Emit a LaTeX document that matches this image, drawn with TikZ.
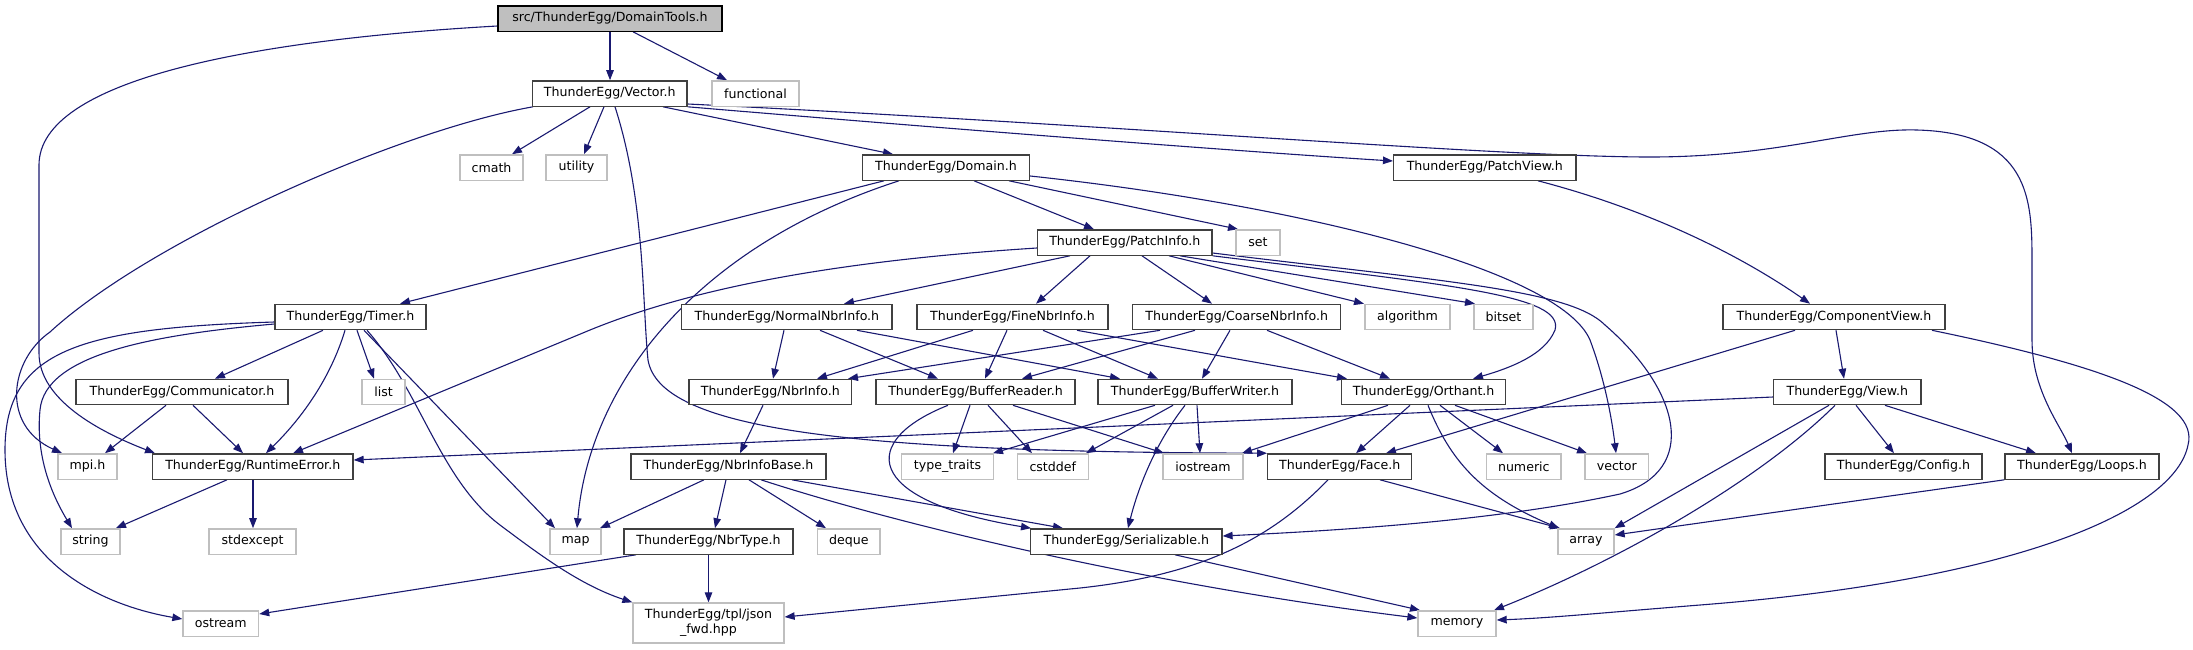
\documentclass[tikz,border=0pt]{standalone}
\usepackage{fontspec}
\setmainfont{DejaVu Sans}
\usetikzlibrary{arrows.meta}
\definecolor{edgec}{HTML}{191970}
\definecolor{realb}{HTML}{404040}
\definecolor{sysb}{HTML}{BFBFBF}
\definecolor{rootfill}{HTML}{BFBFBF}
\pgfdeclarelayer{bg}
\pgfsetlayers{bg,main}
\begin{document}
\begin{tikzpicture}[x=1pt,y=-1pt,
  every node/.style={font=\fontsize{12.6}{15}\selectfont, inner sep=0pt, text=black},
  real/.style={draw=realb, fill=white, line width=1.3pt, minimum height=25.3pt},
  sys/.style={draw=sysb, fill=white, line width=1.3pt, minimum height=25.3pt},
  rootbox/.style={draw=black, fill=rootfill, line width=1.3pt, minimum height=25.3pt},
  link/.style={draw=edgec, line width=1.1pt, -{Triangle[length=10pt,width=7.5pt]}}]
\useasboundingbox (0,0) rectangle (2193,649);
% row 0
\node[rootbox, minimum width=224pt] (dt) at (610,18.5) {src/ThunderEgg/DomainTools.h};
% row 1
\node[real, minimum width=154.5pt] (vec) at (609.75,93.5) {ThunderEgg/Vector.h};
\node[sys, minimum width=87pt] (func) at (755.5,93.5) {functional};
% row 2
\node[sys, minimum width=63pt] (cmath) at (491.5,167.5) {cmath};
\node[sys, minimum width=61pt] (util) at (576.5,167.5) {utility};
\node[real, minimum width=167pt] (dom) at (946,167.5) {ThunderEgg/Domain.h};
\node[real, minimum width=182.4pt] (pv) at (1484.8,167.5) {ThunderEgg/PatchView.h};
% row 3
\node[real, minimum width=174.5pt] (pi) at (1124.75,242.5) {ThunderEgg/PatchInfo.h};
\node[sys, minimum width=44pt] (set) at (1258,242.5) {set};
% row 4
\node[real, minimum width=151pt] (timer) at (350.5,317) {ThunderEgg/Timer.h};
\node[real, minimum width=210.3pt] (nni) at (786.9,317) {ThunderEgg/NormalNbrInfo.h};
\node[real, minimum width=191pt] (fni) at (1012.5,317) {ThunderEgg/FineNbrInfo.h};
\node[real, minimum width=208pt] (cni) at (1236.7,317) {ThunderEgg/CoarseNbrInfo.h};
\node[sys, minimum width=85pt] (algo) at (1407.5,317) {algorithm};
\node[sys, minimum width=59pt] (bitset) at (1503.5,317) {bitset};
\node[real, minimum width=222pt] (cv) at (1834,317) {ThunderEgg/ComponentView.h};
% row 5
\node[real, minimum width=212pt] (comm) at (182,392) {ThunderEgg/Communicator.h};
\node[sys, minimum width=43pt] (list) at (383.5,392) {list};
\node[real, minimum width=162.7pt] (nbr) at (770.3,392) {ThunderEgg/NbrInfo.h};
\node[real, minimum width=199pt] (br) at (975.5,392) {ThunderEgg/BufferReader.h};
\node[real, minimum width=194pt] (bw) at (1195,392) {ThunderEgg/BufferWriter.h};
\node[real, minimum width=164pt] (orth) at (1423.7,392) {ThunderEgg/Orthant.h};
\node[real, minimum width=147.4pt] (view) at (1847.3,392) {ThunderEgg/View.h};
% row 6
\node[sys, minimum width=59pt] (mpi) at (87.5,466.5) {mpi.h};
\node[real, minimum width=200.5pt] (rte) at (252.75,466.5) {ThunderEgg/RuntimeError.h};
\node[real, minimum width=195pt] (nib) at (728.5,466.5) {ThunderEgg/NbrInfoBase.h};
\node[sys, minimum width=91.6pt] (tt) at (947.5,466.5) {type\_traits};
\node[sys, minimum width=71pt] (cstd) at (1052.8,466.5) {cstddef};
\node[sys, minimum width=80pt] (ios) at (1203,466.5) {iostream};
\node[real, minimum width=144pt] (face) at (1339.7,466.5) {ThunderEgg/Face.h};
\node[sys, minimum width=74.3pt] (num) at (1523.8,466.5) {numeric};
\node[sys, minimum width=63.7pt] (vector) at (1616.8,466.5) {vector};
\node[real, minimum width=157pt] (config) at (1903.5,466.5) {ThunderEgg/Config.h};
\node[real, minimum width=154pt] (loops) at (2082,466.5) {ThunderEgg/Loops.h};
% row 7
\node[sys, minimum width=59pt] (string) at (90.5,541.5) {string};
\node[sys, minimum width=87pt] (stdexc) at (252.5,541.5) {stdexcept};
\node[sys, minimum width=51pt] (map) at (575.5,541.5) {map};
\node[real, minimum width=169pt] (nt) at (708.5,541.5) {ThunderEgg/NbrType.h};
\node[sys, minimum width=62.5pt] (deque) at (848.75,541.5) {deque};
\node[real, minimum width=191.3pt] (ser) at (1126.3,541.5) {ThunderEgg/Serializable.h};
\node[sys, minimum width=56pt] (array) at (1586,541.5) {array};
% row 8
\node[sys, minimum width=75.6pt] (ostream) at (220.8,623.5) {ostream};
\node[sys, minimum width=151pt, minimum height=40pt, align=center] (json) at (708.5,623) {ThunderEgg/tpl/json\\\_fwd.hpp};
\node[sys, minimum width=78pt] (memory) at (1457,623.5) {memory};

\begin{pgfonlayer}{bg}
% DomainTools
\draw[link] (dt.south -| 610,0) -- (vec.north -| 610,0);
\draw[link] (dt.south -| 633,0) -- (func.north -| 727,0);
\draw[link] (dt.west |- 0,26) .. controls (250,40) and (39,80) .. (39,165) -- (39,353) .. controls (39,400) and (100,432) .. (rte.north -| 155,0);
% Vector
\draw[link] (vec.south -| 590,0) -- (cmath.north -| 512,0);
\draw[link] (vec.south -| 604,0) -- (util.north -| 584,0);
\draw[link] (vec.south -| 663,0) -- (dom.north -| 893,0);
\draw[link] (vec.south -| 615,0) .. controls (645,200) and (642,300) .. (648,360) .. controls (660,430) and (850,452) .. (face.north west);
\draw[link] (vec.south -| 533,0) .. controls (400,130) and (150,240) .. (50,332) .. controls (10,360) and (0,425) .. (mpi.north -| 62,0);
\draw[link] (vec.south east) .. controls (1000,133) and (1250,152) .. (pv.west |- 0,161);
\draw[link] (vec.east |- 0,104) .. controls (1100,124) and (1500,157) .. (1650,157) .. controls (1780,157) and (1850,128) .. (1917,130) .. controls (2030,133) and (2032,200) .. (2032,260) -- (2032,340) .. controls (2032,390) and (2060,425) .. (loops.north -| 2072,0);
% Domain
\draw[link] (dom.south -| 884,0) -- (timer.north -| 400,0);
\draw[link] (dom.south -| 899,0) .. controls (700,245) and (590,380) .. (map.north -| 577,0);
\draw[link] (dom.south -| 974,0) -- (pi.north -| 1094,0);
\draw[link] (dom.south -| 1009,0) -- (set.north -| 1238,0);
\draw[link] (dom.east |- 0,176) .. controls (1300,205) and (1560,270) .. (1590,340) .. controls (1605,380) and (1612,420) .. (vector.north -| 1616,0);
% PatchInfo
\draw[link] (pi.west |- 0,248) .. controls (850,260) and (700,285) .. (590,330) -- (rte.north -| 293,0);
\draw[link] (pi.south -| 1070,0) -- (nni.north -| 844,0);
\draw[link] (pi.south -| 1090,0) -- (fni.north -| 1036,0);
\draw[link] (pi.south -| 1142,0) -- (cni.north -| 1212,0);
\draw[link] (pi.south -| 1169,0) -- (algo.north -| 1364,0);
\draw[link] (pi.south -| 1180,0) -- (bitset.north -| 1475,0);
\draw[link] (pi.south east) .. controls (1450,285) and (1565,295) .. (1555,330) .. controls (1545,355) and (1510,368) .. (orth.north -| 1473,0);
\draw[link] (pi.east |- 0,253) .. controls (1450,282) and (1570,290) .. (1605,325) .. controls (1680,390) and (1700,470) .. (1620,494) .. controls (1500,520) and (1350,530) .. (ser.east |- 0,536);
% PatchView
\draw[link] (pv.south -| 1538,0) .. controls (1650,210) and (1740,255) .. (cv.north -| 1810,0);
% Timer
\draw[link] (timer.south -| 323,0) -- (comm.north -| 215,0);
\draw[link] (timer.south -| 345,0) .. controls (330,380) and (300,420) .. (rte.north -| 266,0);
\draw[link] (timer.south -| 357,0) -- (list.north -| 374,0);
\draw[link] (timer.south -| 364,0) -- (map.north -| 555,0);
\draw[link] (timer.south -| 367,0) .. controls (420,390) and (440,480) .. (500,525) .. controls (540,555) and (580,585) .. (json.north west);
\draw[link] (timer.west |- 0,324) .. controls (150,335) and (45,355) .. (40,410) .. controls (35,460) and (55,500) .. (string.north -| 72,0);
\draw[link] (timer.west |- 0,322) .. controls (80,328) and (5,350) .. (5,450) .. controls (5,560) and (100,605) .. (ostream.west |- 0,619);
% Communicator
\draw[link] (comm.south -| 166,0) -- (mpi.north -| 105,0);
\draw[link] (comm.south -| 193,0) -- (rte.north -| 243,0);
% RuntimeError
\draw[link] (rte.south -| 227,0) -- (string.north -| 116,0);
\draw[link] (rte.south -| 253,0) -- (stdexc.north -| 253,0);
% NormalNbrInfo
\draw[link] (nni.south -| 784,0) -- (nbr.north -| 773,0);
\draw[link] (nni.south -| 820,0) -- (br.north -| 938,0);
\draw[link] (nni.south -| 857,0) -- (bw.north -| 1120,0);
% FineNbrInfo
\draw[link] (fni.south -| 973,0) -- (nbr.north -| 817,0);
\draw[link] (fni.south -| 1007,0) -- (br.north -| 985,0);
\draw[link] (fni.south -| 1043,0) -- (bw.north -| 1158,0);
\draw[link] (fni.south -| 1077,0) -- (orth.north -| 1347,0);
% CoarseNbrInfo
\draw[link] (cni.south -| 1160,0) -- (nbr.north -| 848,0);
\draw[link] (cni.south -| 1195,0) -- (br.north -| 1022,0);
\draw[link] (cni.south -| 1230,0) -- (bw.north -| 1202,0);
\draw[link] (cni.south -| 1267,0) -- (orth.north -| 1390,0);
% NbrInfo
\draw[link] (nbr.south -| 763,0) -- (nib.north -| 740,0);
% BufferReader
\draw[link] (br.south -| 970,0) -- (tt.north -| 953,0);
\draw[link] (br.south -| 988,0) -- (cstd.north -| 1032,0);
\draw[link] (br.south -| 1013,0) -- (ios.north -| 1164,0);
\draw[link] (br.south -| 948,0) .. controls (860,440) and (860,500) .. (ser.north -| 1031,0);
% BufferWriter
\draw[link] (bw.south -| 1155,0) -- (tt.north -| 993,0);
\draw[link] (bw.south -| 1173,0) -- (cstd.north -| 1086,0);
\draw[link] (bw.south -| 1197,0) -- (ios.north -| 1200,0);
\draw[link] (bw.south -| 1185,0) .. controls (1150,450) and (1135,500) .. (ser.north -| 1128,0);
% Orthant
\draw[link] (orth.south -| 1388,0) -- (ios.north -| 1242,0);
\draw[link] (orth.south -| 1410,0) -- (face.north -| 1356,0);
\draw[link] (orth.south -| 1440,0) -- (num.north -| 1503,0);
\draw[link] (orth.south -| 1455,0) -- (vector.north -| 1587,0);
\draw[link] (orth.south -| 1428,0) .. controls (1450,460) and (1480,495) .. (array.north -| 1559,0);
% Face
\draw[link] (face.south -| 1380,0) -- (array.north -| 1560,0);
\draw[link] (face.south -| 1328,0) .. controls (1270,540) and (1200,575) .. (1080,588) -- (json.east |- 0,617);
% NbrInfoBase
\draw[link] (nib.south -| 704,0) -- (map.north -| 600,0);
\draw[link] (nib.south -| 726,0) -- (nt.north -| 715,0);
\draw[link] (nib.south -| 749,0) -- (deque.north -| 826,0);
\draw[link] (nib.south -| 792,0) -- (ser.north -| 1063,0);
\draw[link] (nib.south -| 761,0) .. controls (900,525) and (1150,585) .. (memory.west |- 0,618);
% NbrType
\draw[link] (nt.south -| 636,0) -- (ostream.east |- 0,614);
\draw[link] (nt.south -| 708.5,0) -- (json.north -| 708.5,0);
% Serializable
\draw[link] (ser.south -| 1175,0) -- (memory.north -| 1420,0);
% ComponentView
\draw[link] (cv.south -| 1836,0) -- (view.north -| 1844,0);
\draw[link] (cv.south -| 1795,0) -- (face.north -| 1386,0);
\draw[link] (cv.south -| 1932,0) .. controls (2100,365) and (2200,400) .. (2188,445) .. controls (2175,510) and (2020,580) .. (1700,605) .. controls (1600,613) and (1550,618) .. (memory.east |- 0,620);
% View
\draw[link] (view.west |- 0,397) -- (rte.east |- 0,460);
\draw[link] (view.south -| 1856,0) -- (config.north -| 1894,0);
\draw[link] (view.south -| 1885,0) -- (loops.north -| 2036,0);
\draw[link] (view.south -| 1829,0) -- (array.north east);
\draw[link] (view.south -| 1835,0) .. controls (1760,480) and (1620,560) .. (memory.north -| 1494,0);
% Loops
\draw[link] (loops.south west) -- (array.east |- 0,535);
\end{pgfonlayer}
\end{tikzpicture}
\end{document}
